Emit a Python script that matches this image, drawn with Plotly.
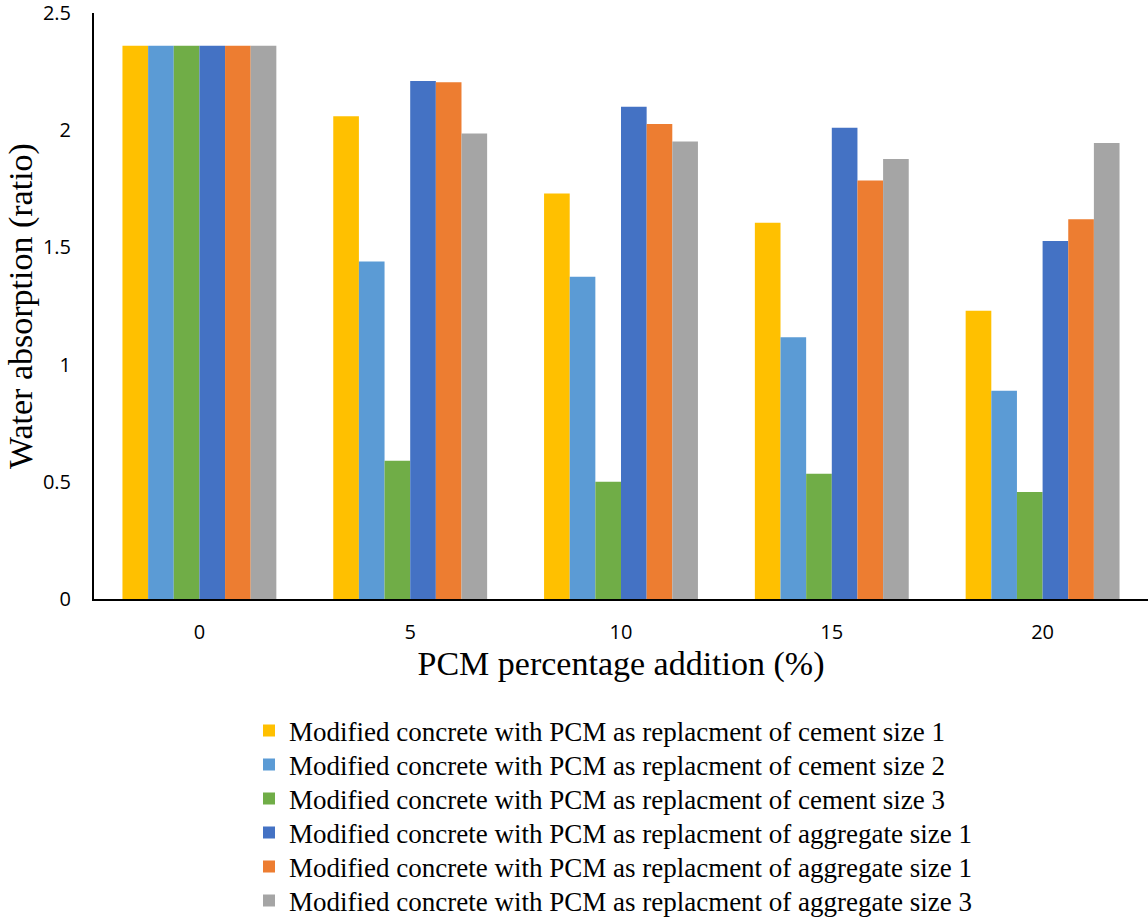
import plotly.graph_objects as go

categories = ["0", "5", "10", "15", "20"]

series_names = [
    "Modified concrete with PCM as replacment of cement size 1",
    "Modified concrete with PCM as replacment of cement size 2",
    "Modified concrete with PCM as replacment of cement size 3",
    "Modified concrete with PCM as replacment of aggregate size 1",
    "Modified concrete with PCM as replacment of aggregate size 1",
    "Modified concrete with PCM as replacment of aggregate size 3",
]

cement_size1 = [2.36, 2.06, 1.73, 1.605, 1.23]
cement_size2 = [2.36, 1.44, 1.375, 1.117, 0.889]
cement_size3 = [2.36, 0.59, 0.50, 0.534, 0.457]
aggregate_size1 = [2.36, 2.21, 2.10, 2.01, 1.527]
aggregate_size1b = [2.36, 2.205, 2.026, 1.786, 1.62]
aggregate_size3 = [2.36, 1.986, 1.952, 1.877, 1.946]

series_values = [cement_size1, cement_size2, cement_size3,
                 aggregate_size1, aggregate_size1b, aggregate_size3]
colors = ["#FFC000", "#5B9BD5", "#70AD47", "#4472C4", "#ED7D31", "#A5A5A5"]

y_tick_vals = [0, 0.5, 1, 1.5, 2, 2.5]
y_tick_text = ["0", "0.5", "1", "1.5", "2", "2.5"]

# figure geometry (pixels); body margin is removed so figure fills the page
W, H = 1148, 917
M_L, M_R, M_T, M_B = 94, 0, 13, 318
PLOT_H = H - M_T - M_B
legend_row0 = 731      # centre of first legend row
legend_step = 34       # distance between legend rows
legend_left = 249

fig = go.Figure()
legend_ids = ["legend"] + [f"legend{i}" for i in range(2, len(series_names) + 1)]
for i, (name, vals, col) in enumerate(zip(series_names, series_values, colors)):
    fig.add_trace(go.Bar(
        x=categories, y=vals, name=name,
        marker=dict(color=col, line=dict(width=0)),
        legend=legend_ids[i],
    ))

legend_layout = {}
for i, lid in enumerate(legend_ids):
    row_y = legend_row0 + i * legend_step
    legend_layout[lid] = dict(
        x=(legend_left - M_L) / (W - M_L - M_R),
        y=((H - M_B) - row_y) / PLOT_H,
        xanchor="left", yanchor="middle",
        bgcolor="rgba(0,0,0,0)",
        font=dict(family="Liberation Serif", size=27, color="black"),
        itemwidth=30,
    )

fig.update_layout(
    width=W, height=H,
    margin=dict(l=M_L, r=M_R, t=M_T, b=M_B, autoexpand=False),
    paper_bgcolor="white", plot_bgcolor="white",
    barmode="group", bargap=0.27, bargroupgap=0,
    showlegend=True,
    xaxis=dict(
        type="category",
        showline=True, linecolor="black", linewidth=2,
        showgrid=False, ticks="",
        tickfont=dict(family="Open Sans", size=20, color="black"),
        ticklabelstandoff=14,
        title=dict(text="PCM percentage addition (%)",
                   font=dict(family="Liberation Serif", size=34, color="black"),
                   standoff=5),
        automargin=False,
    ),
    yaxis=dict(
        range=[0, 2.5001],
        tickvals=y_tick_vals, ticktext=y_tick_text,
        showline=True, linecolor="black", linewidth=2,
        showgrid=False, zeroline=False, ticks="",
        tickfont=dict(family="Open Sans", size=20, color="black"),
        ticklabelstandoff=17, ticklabeloverflow="allow",
        title=dict(text="Water absorption (ratio)",
                   font=dict(family="Liberation Serif", size=34, color="black"),
                   standoff=0),
        automargin=False,
    ),
    **legend_layout,
)

fig.write_html("out.html",
               config={"displayModeBar": False},
               post_script="document.body.style.margin='0px';")
